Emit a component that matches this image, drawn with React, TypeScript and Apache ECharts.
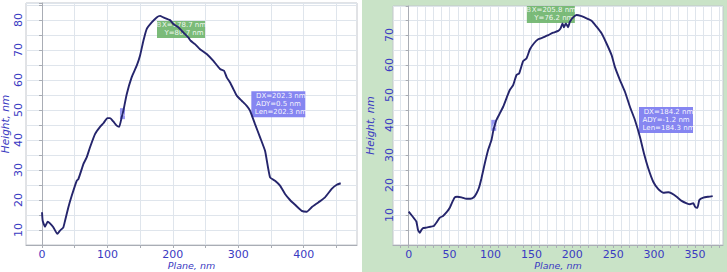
import React, { useEffect, useRef } from "react";
import * as echarts from "echarts";

// Profile 1 (left panel): plane position (nm) vs height (nm)
const leftPlane = [0, 1, 4.6, 8.7, 12.2, 17.3, 23.4, 27.5, 32.6, 35.2, 40.3, 45.4, 53, 55.6, 60.7, 63.2, 68.3, 73.4, 81, 88.7, 93.8, 99.9, 104, 109, 114.2, 118, 121.8, 124.4, 129.5, 137, 144.8, 149.8, 155, 160, 167.7, 175.3, 180.4, 185.5, 195.7, 200.8, 208.4, 216, 223.7, 227.3, 233.9, 241.6, 251.8, 262, 272.2, 278.3, 282.4, 287.5, 292.6, 297.7, 305.3, 313, 318, 325.7, 333.4, 341, 348.6, 356.3, 363.9, 371.6, 379.2, 386.9, 397, 404.7, 412.3, 422.5, 432.7, 442.9, 450.6, 456.7];
const leftHeight = [15.9, 13.1, 11.1, 12.8, 12.2, 10.9, 8.7, 9.8, 10.9, 13.1, 17.6, 21.4, 26.4, 27, 30.3, 32, 34.2, 37.6, 42, 44.4, 45.6, 47.3, 47.3, 46.2, 44.8, 44.4, 47.6, 49.8, 55.3, 60.9, 64.8, 68.1, 73.1, 77, 79.2, 80.9, 81.4, 80.9, 80, 78.7, 77.6, 75.9, 74.2, 73.1, 72, 70.3, 68.7, 66.4, 63.7, 63.1, 60.9, 59.2, 57, 54.8, 53.1, 51.4, 49.8, 45.3, 40.9, 36.4, 27.6, 26.4, 24.8, 22, 20, 18.4, 16.4, 16.1, 17.6, 19.2, 20.9, 23.7, 25.1, 25.6];

// Profile 2 (right panel)
const rightPlane = [0, 3.3, 6.5, 9.4, 11.4, 13.5, 15.5, 17.5, 21.6, 26.5, 30.6, 34.7, 37.9, 42, 46.9, 50.2, 53.4, 56.3, 59.2, 64.5, 70.6, 75.5, 79.6, 82.8, 85.7, 88.9, 93, 97.1, 101.2, 103.2, 105.3, 107.3, 111.4, 115.5, 119.5, 123.6, 127.7, 131.8, 135, 139.9, 144, 148.1, 153, 158.3, 164.4, 170.6, 176.7, 182.8, 185.6, 188.1, 189.7, 192.2, 195, 197, 201.1, 205.2, 211.3, 217.5, 223.6, 229.7, 235.8, 241.9, 248.1, 252.1, 258.3, 264.4, 270.5, 276.6, 282.7, 287.6, 292.9, 299, 305.2, 311.3, 317.4, 321.5, 327.6, 333.7, 339.9, 344, 348, 350, 353, 355.4, 360.3, 366.4, 371.7];
const rightHeight = [11.1, 10, 8.9, 7.8, 5, 4.1, 5, 5.6, 5.8, 6.1, 6.3, 7.8, 9.1, 9.7, 11.1, 12.4, 14.4, 15.9, 16.1, 15.9, 15.4, 15.4, 15.9, 17.2, 18.9, 22.2, 27.2, 31.7, 35, 37.8, 40, 41.7, 43.9, 46.1, 48.9, 51.7, 53.3, 56.7, 57.2, 61.3, 62.2, 65.2, 67.2, 68.6, 69.2, 70, 70.8, 71.4, 72.2, 73.9, 72.6, 73.9, 72.6, 74.4, 75.9, 76.7, 76.3, 75.6, 74.8, 72.8, 70.6, 67.2, 63.3, 59.4, 55, 51.1, 46.1, 41.7, 36.1, 30.6, 25.6, 21.1, 18.6, 17.4, 17.6, 17.2, 16.1, 14.7, 13.9, 13.6, 13.9, 12.8, 12.4, 15, 15.8, 16.1, 16.3];

// Tick / grid positions and labelled values along the plane axes
const leftXTicks = [0, 50, 100, 150, 200, 250, 300, 350, 400, 450];
const leftXLabels = [0, 100, 200, 300, 400];
const rightXTicks = [-10, 0, 10, 20, 30, 40, 50, 60, 70, 80, 90, 100, 110, 120, 130, 140, 150, 160, 170, 180, 190, 200, 210, 220, 230, 240, 250, 260, 270, 280, 290, 300, 310, 320, 330, 340, 350, 360, 370, 380];
const rightXLabels = [0, 50, 100, 150, 200, 250, 300, 350];

// Cursor annotations: [plane, height] anchor and their readouts
const leftCursorB = [212.5, 76.9];
const leftCursorBText = ["X=178.7 nm", "Y=80.7 nm"];
const leftDelta = [361.3, 51.9];
const leftDeltaText = ["DX=202.3 nm", "DY=0.5 nm", "Len=202.3 nm"];
const leftMarkA = [123, 48.8];
const rightCursorB = [173.8, 76.9];
const rightCursorBText = ["X=205.8 nm", "Y=76.2 nm"];
const rightDelta = [314.6, 41.7];
const rightDeltaText = ["DX=184.2 nm", "DY=-1.2 nm", "Len=184.3 nm"];
const rightMarkA = [104, 39.9];

const BLUE = "#3a3ac2";
const LINE = "#25256c";
const GRID = "#dfe5ec";
const AXIS = "#a9adb5";
const GREEN_BOX = "#6db46a";
const VIOLET_BOX = "#7f7ff0";
const FONT = "DejaVu Sans";

function pairs(xs: number[], ys: number[]) {
  return xs.map((x, i) => [x, ys[i]]);
}

function xAxis(gridIndex: number, min: number, max: number, ticks: number[], labels: number[]) {
  return {
    type: "value",
    gridIndex,
    min,
    max,
    axisLine: { show: true, lineStyle: { color: AXIS } },
    axisTick: { show: true, customValues: ticks, length: 3, lineStyle: { color: AXIS } },
    axisLabel: { customValues: labels, color: BLUE, fontSize: 11, lineHeight: 12, fontFamily: FONT, margin: 3 },
    splitLine: { show: true, lineStyle: { color: GRID, width: 1 } },
    name: "Plane, nm",
    nameLocation: "middle",
    nameGap: 15.5,
    nameMoveOverlap: false,
    nameTextStyle: { color: BLUE, fontStyle: "italic", fontSize: 9.5, lineHeight: 10, fontFamily: FONT },
  };
}

function yAxis(gridIndex: number, min: number, max: number, nameGap: number, margin: number) {
  return {
    type: "value",
    gridIndex,
    min,
    max,
    interval: 5,
    axisLine: { show: true, lineStyle: { color: AXIS } },
    axisTick: { show: true, length: 3, lineStyle: { color: AXIS } },
    axisLabel: {
      color: BLUE,
      fontSize: 11,
      fontFamily: FONT,
      rotate: 90,
      margin,
      showMinLabel: true,
      showMaxLabel: true,
      formatter: (v: number) => (v > 0 && v % 10 === 0 ? String(v) : ""),
    },
    splitLine: { show: true, lineStyle: { color: GRID, width: 1 } },
    name: "Height, nm",
    nameLocation: "middle",
    nameGap,
    nameMoveOverlap: false,
    nameRotate: 90,
    nameTextStyle: { color: BLUE, fontStyle: "italic", fontSize: 10.5, fontFamily: FONT },
  };
}

const boxText = { color: "#ffffff", fontSize: 7, fontFamily: FONT, lineHeight: 8 };

function cursorBox(idx: number, at: number[], lines: string[]) {
  return {
    type: "scatter",
    xAxisIndex: idx,
    yAxisIndex: idx,
    z: 1,
    clip: false,
    symbol: "rect",
    symbolSize: [48, 17],
    itemStyle: { color: GREEN_BOX, opacity: 0.9 },
    label: {
      show: true,
      position: "inside",
      lineHeight: 8,
      fontSize: 7,
      formatter: "{b|B}{t|" + lines[0] + "}\n{s|}{t|" + lines[1] + "}",
      rich: {
        b: { ...boxText, color: "#e8f0e8", width: 6 },
        s: { ...boxText, width: 6 },
        t: boxText,
      },
    },
    data: [at],
  };
}

function deltaBox(idx: number, at: number[], lines: string[]) {
  return {
    type: "scatter",
    xAxisIndex: idx,
    yAxisIndex: idx,
    z: 1,
    clip: false,
    symbol: "rect",
    symbolSize: [54, 26],
    itemStyle: { color: VIOLET_BOX, opacity: 0.95 },
    label: {
      show: true,
      position: "inside",
      lineHeight: 8,
      fontSize: 7,
      formatter:
        "{s|}{t|" + lines[0] + "}\n{a|A}{t|" + lines[1] + "}\n{s|}{t|" + lines[2] + "}",
      rich: {
        a: { ...boxText, width: 5 },
        s: { ...boxText, width: 5 },
        t: boxText,
      },
    },
    data: [at],
  };
}

function markA(idx: number, at: number[]) {
  return {
    type: "scatter",
    xAxisIndex: idx,
    yAxisIndex: idx,
    z: 1,
    symbol: "rect",
    symbolSize: [5, 11],
    itemStyle: { color: VIOLET_BOX },
    label: { show: true, position: "inside", formatter: "A", color: "#ffffff", fontSize: 6, fontFamily: FONT },
    data: [at],
  };
}

function profile(idx: number, xs: number[], ys: number[]) {
  return {
    type: "line",
    xAxisIndex: idx,
    yAxisIndex: idx,
    z: 3,
    showSymbol: false,
    symbol: "none",
    smooth: 0.15,
    lineStyle: { color: LINE, width: 1.9 },
    data: pairs(xs, ys),
  };
}

export default function App() {
  const ref = useRef<HTMLDivElement>(null);
  useEffect(() => {
    if (!ref.current) return;
    const chart = echarts.init(ref.current, undefined, { renderer: "svg" });
    chart.setOption({
      animation: false,
      backgroundColor: "transparent",
      grid: [
        { left: 26, top: 3, width: 331, height: 242, outerBoundsMode: "none", containLabel: false, show: true, backgroundColor: "#ffffff", borderColor: "#c3c6cc", borderWidth: 1 },
        { left: 393, top: 6, width: 330, height: 239, outerBoundsMode: "none", containLabel: false, show: true, backgroundColor: "#ffffff", borderColor: "#c3c6cc", borderWidth: 1 },
      ],
      xAxis: [xAxis(0, -24.5, 481.6, leftXTicks, leftXLabels), xAxis(1, -19.2, 384.3, rightXTicks, rightXLabels)],
      yAxis: [yAxis(0, 5, 85.7, 16, 2.5), yAxis(1, 0, 79.7, 17.5, -1.5)],
      series: [
        cursorBox(0, leftCursorB, leftCursorBText),
        deltaBox(0, leftDelta, leftDeltaText),
        markA(0, leftMarkA),
        profile(0, leftPlane, leftHeight),
        cursorBox(1, rightCursorB, rightCursorBText),
        deltaBox(1, rightDelta, rightDeltaText),
        markA(1, rightMarkA),
        profile(1, rightPlane, rightHeight),
      ],
    });
    return () => chart.dispose();
  }, []);
  return (
    <div
      style={{
        position: "absolute",
        left: 0,
        top: 0,
        width: 727,
        height: 272,
        background: "linear-gradient(to right, #ffffff 0px, #ffffff 362px, #c9e3c7 362px, #c9e3c7 727px)",
      }}
    >
      <div ref={ref} style={{ width: 727, height: 272 }} />
    </div>
  );
}
